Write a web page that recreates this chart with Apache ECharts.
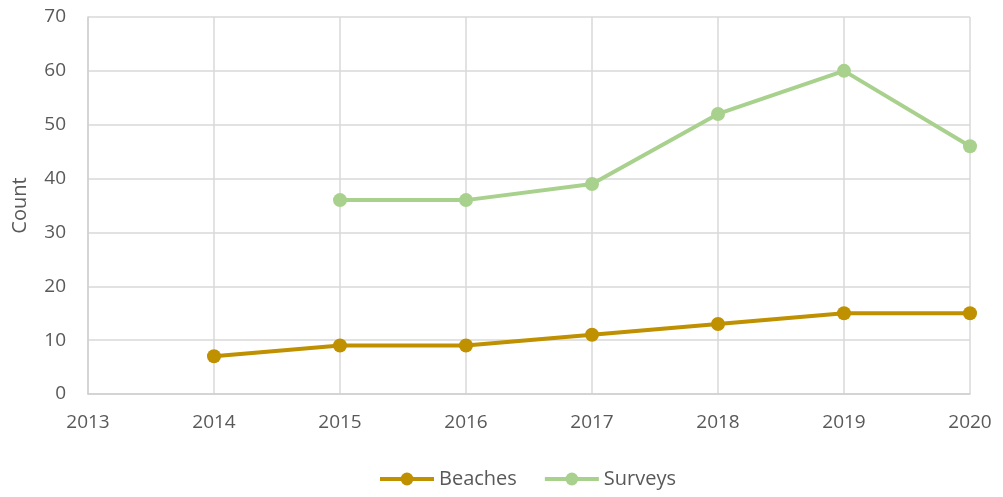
<!DOCTYPE html>
<html><head><meta charset="utf-8">
<script src="https://cdn.jsdelivr.net/npm/echarts@6/dist/echarts.min.js"></script>
<style>html,body{margin:0;padding:0;background:#fff}#c{width:1003px;height:497px}</style>
</head><body><div id="c"></div>
<script>
const years = [2014, 2015, 2016, 2017, 2018, 2019, 2020];
const beaches = [7, 9, 9, 11, 13, 15, 15];
const surveyYears = [2015, 2016, 2017, 2018, 2019, 2020];
const surveys = [36, 36, 39, 52, 60, 46];

const chart = echarts.init(document.getElementById('c'));
const font = 'Open Sans';
chart.setOption({
  animation: false,
  grid: {left: 88, right: 33, top: 17, bottom: 103},
  xAxis: {
    type: 'value', min: 2013, max: 2020, interval: 1,
    axisLine: {lineStyle: {color: '#d0d0d0', width: 1.5}},
    axisTick: {show: false},
    splitLine: {show: true, lineStyle: {color: '#d9d9d9', width: 1.5}},
    axisLabel: {color: '#595959', fontSize: 19, fontFamily: font, margin: 19, formatter: v => String(v)}
  },
  yAxis: {
    type: 'value', min: 0, max: 70, interval: 10,
    name: 'Count', nameLocation: 'middle', nameGap: 58,
    nameTextStyle: {color: '#595959', fontSize: 20, fontFamily: font},
    axisLine: {show: true, lineStyle: {color: '#d0d0d0', width: 1.5}},
    axisTick: {show: false},
    splitLine: {lineStyle: {color: '#d9d9d9', width: 1.5}},
    axisLabel: {color: '#595959', fontSize: 19, fontFamily: font, margin: 22}
  },
  legend: {
    bottom: 8, left: 378, padding: 0, itemWidth: 54, itemHeight: 16, itemGap: 26,
    textStyle: {color: '#595959', fontSize: 20, fontFamily: font},
    lineStyle: {width: 4},
    data: ['Beaches', 'Surveys']
  },
  series: [
    {name: 'Beaches', type: 'line', data: years.map((y, i) => [y, beaches[i]]),
     symbol: 'circle', symbolSize: 14, lineStyle: {width: 4, color: '#BF9000'},
     itemStyle: {color: '#BF9000'}},
    {name: 'Surveys', type: 'line', data: surveyYears.map((y, i) => [y, surveys[i]]),
     symbol: 'circle', symbolSize: 14, lineStyle: {width: 4, color: '#A9D18E'},
     itemStyle: {color: '#A9D18E'}}
  ]
});
</script></body></html>
